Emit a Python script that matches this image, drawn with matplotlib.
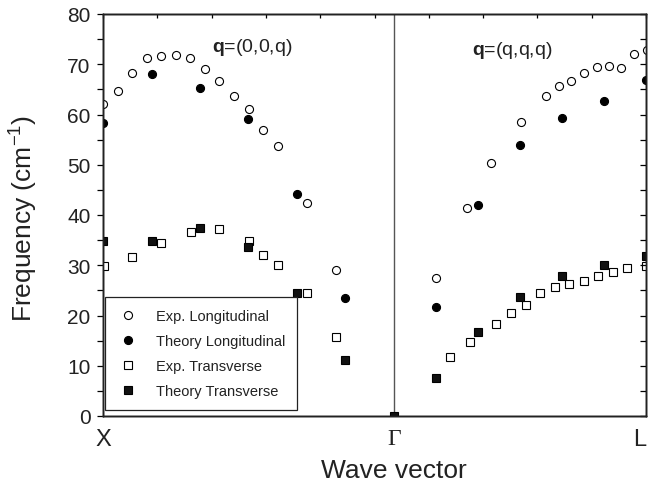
import numpy as np
import matplotlib
matplotlib.use("Agg")
import matplotlib.pyplot as plt

plt.rcParams['font.family'] = ['Liberation Sans', 'DejaVu Sans']
plt.rcParams['mathtext.fontset'] = 'custom'
plt.rcParams['mathtext.rm'] = 'Liberation Sans'
plt.rcParams['mathtext.it'] = 'Liberation Sans:italic'
plt.rcParams['mathtext.bf'] = 'Liberation Sans:bold'

# x: X = -1, Gamma = 0, L = sqrt(3)/2
# q=(0,0,q) branch (X -> Gamma)
exp_long_x1 = [-1.0, -0.948, -0.899, -0.848, -0.80, -0.749, -0.70, -0.651, -0.60, -0.549, -0.498, -0.449, -0.399, -0.298, -0.199]
exp_long_y1 = [62.0, 64.7, 68.3, 71.3, 71.6, 71.9, 71.3, 69.0, 66.7, 63.6, 61.0, 57.0, 53.7, 42.4, 29.0]
th_long_x1 = [-1.0, -0.833, -0.667, -0.5, -0.333, -0.167]
th_long_y1 = [58.3, 68.1, 65.3, 59.2, 44.2, 23.5]
exp_tr_x1 = [-0.997, -0.899, -0.80, -0.699, -0.60, -0.498, -0.449, -0.399, -0.30, -0.199]
exp_tr_y1 = [29.8, 31.7, 34.4, 36.7, 37.2, 34.8, 32.0, 30.1, 24.4, 15.8]
th_tr_x1 = [-1.0, -0.833, -0.667, -0.5, -0.333, -0.167, 0.0]
th_tr_y1 = [34.8, 34.8, 37.5, 33.7, 24.4, 11.2, 0.0]

# q=(q,q,q) branch (Gamma -> L)
exp_long_x2 = [0.145, 0.252, 0.334, 0.436, 0.521, 0.566, 0.608, 0.652, 0.697, 0.739, 0.780, 0.826, 0.869]
exp_long_y2 = [27.4, 41.4, 50.4, 58.6, 63.6, 65.6, 66.7, 68.3, 69.5, 69.7, 69.3, 72.0, 72.9]
th_long_x2 = [0.144, 0.289, 0.433, 0.577, 0.722, 0.866]
th_long_y2 = [21.7, 41.9, 53.9, 59.3, 62.6, 66.8]
exp_tr_x2 = [0.191, 0.262, 0.352, 0.402, 0.452, 0.503, 0.552, 0.602, 0.652, 0.702, 0.752, 0.802, 0.866]
exp_tr_y2 = [11.7, 14.7, 18.4, 20.4, 22.1, 24.4, 25.7, 26.3, 26.9, 27.9, 28.7, 29.4, 29.8]
th_tr_x2 = [0.144, 0.289, 0.433, 0.577, 0.722, 0.866]
th_tr_y2 = [7.6, 16.8, 23.7, 27.8, 30.0, 31.9]

xticks = [-1.0, 0.0, np.sqrt(3) / 2]
xticklabels = ['X', 'Γ', 'L']

fig = plt.figure(figsize=(6.48, 4.85), dpi=100)
ax = fig.add_axes([103/648, 68/485, 543/648, 402/485])

xmin, xmax = -1.0, np.sqrt(3) / 2
ax.set_xlim(xmin, xmax)
ax.set_ylim(0, 80)

ax.axvline(0.0, color='#555555', lw=1.0, zorder=1)

ms_c = 5.8
ms_s = 5.3
mew = 0.8
kw_open_c = dict(ls='none', marker='o', ms=ms_c, mfc='white', mec='black', mew=mew)
kw_fill_c = dict(ls='none', marker='o', ms=ms_c, mfc='black', mec='black', mew=mew)
kw_open_s = dict(ls='none', marker='s', ms=ms_s, mfc='white', mec='black', mew=mew)
kw_fill_s = dict(ls='none', marker='s', ms=ms_s, mfc='#111111', mec='black', mew=mew)

h1, = ax.plot(exp_long_x1 + exp_long_x2, exp_long_y1 + exp_long_y2, zorder=3, **kw_open_c)
h2, = ax.plot(th_long_x1 + th_long_x2, th_long_y1 + th_long_y2, zorder=4, **kw_fill_c)
h3, = ax.plot(exp_tr_x1 + exp_tr_x2, exp_tr_y1 + exp_tr_y2, zorder=3, **kw_open_s)
h4, = ax.plot(th_tr_x1 + th_tr_x2, th_tr_y1 + th_tr_y2, zorder=4, **kw_fill_s)

# ticks
ax.set_yticks(np.arange(0, 81, 10))
ax.set_yticks(np.arange(5, 80, 10), minor=True)
ax.tick_params(axis='y', which='both', direction='out', length=4, width=0.9,
               labelsize=15, pad=5, right=False, labelcolor='#222222')
ax.set_xticks(xticks)
ax.set_xticklabels(xticklabels)
ax.tick_params(axis='x', which='both', length=0, labelsize=17, pad=9)
for lab in ax.get_xticklabels():
    lab.set_color('#222222')
ax.get_xticklabels()[1].set_family(['Liberation Serif', 'DejaVu Serif'])
ax.get_xticklabels()[2].set_horizontalalignment('right')

# top ticks (10 divisions) and right ticks (inward)
axt = ax.twiny()
axt.set_xlim(0, 1)
axt.set_xticks(np.linspace(0, 1, 11))
axt.tick_params(axis='x', direction='in', length=3, width=0.9, labeltop=False)
axr = ax.twinx()
axr.set_ylim(0, 80)
axr.set_yticks(np.arange(0, 81, 10))
axr.set_yticks(np.arange(5, 80, 10), minor=True)
axr.tick_params(axis='y', which='both', direction='in', length=4, width=0.9, labelright=False)

for a in (ax, axt, axr):
    for s in a.spines.values():
        s.set_linewidth(1.0)
        s.set_color('#222222')

ax.set_ylabel('Frequency (cm$^{-1}$)', fontsize=19, color='#222222')
ax.yaxis.set_label_coords(-0.116, 0.495)
ax.set_xlabel('Wave vector', fontsize=19, color='#222222')
ax.xaxis.set_label_coords(0.535, -0.105)

ax.text(-0.625, 73.5, r'$\mathbf{q}$=(0,0,q)', fontsize=14, color='#222222', va='center', ha='left')
ax.text(0.268, 73.0, r'$\mathbf{q}$=(q,q,q)', fontsize=14, color='#222222', va='center', ha='left')

leg = ax.legend([h1, h2, h3, h4],
                ['Exp. Longitudinal', 'Theory Longitudinal', 'Exp. Transverse', 'Theory Transverse'],
                loc='lower left', bbox_to_anchor=(0.004, 0.016), fontsize=10.5,
                frameon=True, fancybox=False, edgecolor='#222222', framealpha=1,
                handlelength=1.5, handletextpad=1.2, labelspacing=0.75,
                borderpad=0.8, borderaxespad=0.0)
leg.get_frame().set_linewidth(0.9)
for t in leg.get_texts():
    t.set_color('#222222')
leg.set_zorder(10)

fig.savefig('out.png', dpi=100)
